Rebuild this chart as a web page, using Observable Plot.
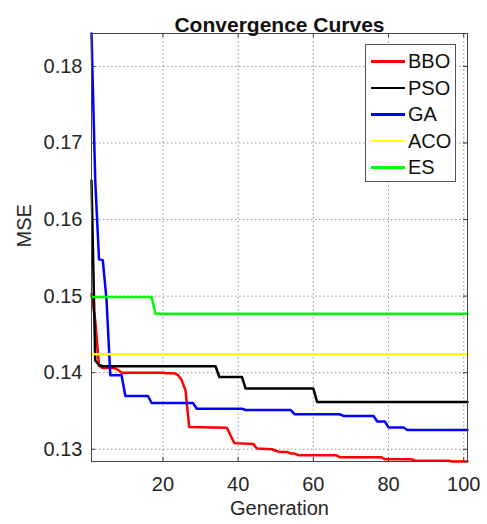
<!DOCTYPE html>
<html>
<head>
<meta charset="utf-8">
<script src="https://cdn.jsdelivr.net/npm/d3@7"></script>
<script src="https://cdn.jsdelivr.net/npm/@observablehq/plot@0.6"></script>
<style>
  html, body { margin: 0; padding: 0; background: #fff; }
  #chart { position: relative; width: 487px; height: 524px; font-family: "Liberation Sans", Arial, sans-serif; color: #262626; }
  #legend { position: absolute; left: 365px; top: 44px; width: 91px; height: 138px; box-sizing: border-box;
            border: 1px solid #555; background: #fff; }
  .item { position: absolute; left: 0; height: 0; }
  .swatch { position: absolute; left: 5px; width: 34px; height: 2.5px; top: -1px; }
  .label { position: absolute; left: 42px; top: -11px; font-size: 20px; line-height: 22px; color: #111; white-space: nowrap; }
</style>
</head>
<body>
<div id="chart"><div id="legend"></div></div>
<script>
// Best-so-far MSE per generation for each optimiser (corner points of the step curves)
const bboGen = [1, 2, 3, 4, 7, 8, 9, 20, 21, 23, 24, 25, 26, 27, 37, 38, 39, 44, 45, 49, 50, 51, 53, 54, 55, 56, 66, 67, 78, 79, 86, 87, 96, 97, 101];
const bboMse = [0.1503, 0.1468, 0.1409, 0.1406, 0.1406, 0.1404, 0.1400, 0.1400, 0.13992, 0.13992, 0.1397, 0.1390, 0.1377, 0.1329, 0.1328, 0.1318, 0.1308, 0.1307, 0.1301, 0.1300, 0.1298, 0.12965, 0.12965, 0.12944, 0.12944, 0.12922, 0.12922, 0.12896, 0.12896, 0.1287, 0.1287, 0.1285, 0.1285, 0.1284, 0.1284];

const psoGen = [1, 2, 3, 4, 34, 35, 41, 42, 60, 61, 101];
const psoMse = [0.1651, 0.1416, 0.1410, 0.14084, 0.14084, 0.13944, 0.13944, 0.13792, 0.13792, 0.13617, 0.13617];

const gaGen = [1, 2, 3, 4, 5, 6, 9, 10, 16, 17, 28, 29, 41, 42, 54, 55, 67, 68, 76, 77, 79, 80, 84, 85, 101];
const gaMse = [0.1843, 0.1650, 0.1548, 0.1547, 0.1495, 0.13966, 0.13966, 0.13696, 0.13696, 0.13604, 0.13604, 0.13529, 0.13529, 0.13512, 0.13512, 0.13457, 0.13457, 0.13435, 0.13435, 0.13362, 0.13362, 0.13285, 0.13285, 0.13252, 0.13252];

const acoGen = [1, 101];
const acoMse = [0.1424, 0.1424];

const esGen = [1, 17, 18, 101];
const esMse = [0.1499, 0.1499, 0.1477, 0.1477];

const names = ["BBO", "PSO", "GA", "ACO", "ES"];
const colors = ["#ff0000", "#000000", "#0000ff", "#ffff00", "#00ff00"];
const gens = [bboGen, psoGen, gaGen, acoGen, esGen];
const mses = [bboMse, psoMse, gaMse, acoMse, esMse];

const xTicks = [20, 40, 60, 80, 100];
const yTicks = [0.13, 0.14, 0.15, 0.16, 0.17, 0.18];

const series = names.map((name, i) => ({
  name,
  color: colors[i],
  points: gens[i].map((g, j) => ({gen: g, mse: mses[i][j]}))
}));

const W = 487, H = 524;
const mTop = 33, mRight = 20, mBottom = 63, mLeft = 91;
const frameW = W - mLeft - mRight, frameH = H - mTop - mBottom;
const tickLen = 4;
const gridStyle = {stroke: "#7a7a7a", strokeOpacity: 0.8, strokeDasharray: "1.5,2.5", strokeWidth: 1};

const chart = Plot.plot({
  width: W,
  height: H,
  marginTop: mTop,
  marginRight: mRight,
  marginBottom: mBottom,
  marginLeft: mLeft,
  style: {fontFamily: "\"Liberation Sans\", Arial, sans-serif", fontSize: "20px", color: "#262626", background: "#fff"},
  x: {domain: [1, 101], ticks: xTicks, tickSize: 0, tickPadding: 15, label: null},
  y: {domain: [0.1284, 0.1843], ticks: yTicks, tickSize: 0, tickPadding: 9, tickFormat: d3.format(".2f"), label: null},
  marks: [
    // dotted grid
    Plot.ruleX(xTicks, gridStyle),
    Plot.ruleY(yTicks, gridStyle),
    // inward tick marks on all four sides
    Plot.ruleX(xTicks, {insetTop: frameH - tickLen, stroke: "#333"}),
    Plot.ruleX(xTicks, {insetBottom: frameH - tickLen, stroke: "#333"}),
    Plot.ruleY(yTicks, {insetRight: frameW - tickLen, stroke: "#333"}),
    Plot.ruleY(yTicks, {insetLeft: frameW - tickLen, stroke: "#333"}),
    // convergence curves
    ...series.map(s => Plot.line(s.points, {x: "gen", y: "mse", stroke: s.color, strokeWidth: 2.5})),
    Plot.frame({stroke: "#444"}),
    // title and axis titles
    Plot.text(["Convergence Curves"], {frameAnchor: "top", dy: -16, fontSize: 21, fontWeight: "bold", fill: "#111"}),
    Plot.text(["Generation"], {frameAnchor: "bottom", dy: 53, fontSize: 20, fill: "#262626"}),
    Plot.text(["MSE"], {frameAnchor: "left", dx: -67, rotate: -90, fontSize: 20, fill: "#262626"})
  ]
});

const root = document.getElementById("chart");
root.insertBefore(chart, root.firstChild);

// legend box
const legend = document.getElementById("legend");
const rowStep = 26.5, firstRow = 16;
series.forEach((s, i) => {
  const item = document.createElement("div");
  item.className = "item";
  item.style.top = (firstRow + i * rowStep) + "px";
  const sw = document.createElement("div");
  sw.className = "swatch";
  sw.style.background = s.color;
  const lb = document.createElement("div");
  lb.className = "label";
  lb.textContent = s.name;
  item.appendChild(sw);
  item.appendChild(lb);
  legend.appendChild(item);
});
</script>
</body>
</html>
